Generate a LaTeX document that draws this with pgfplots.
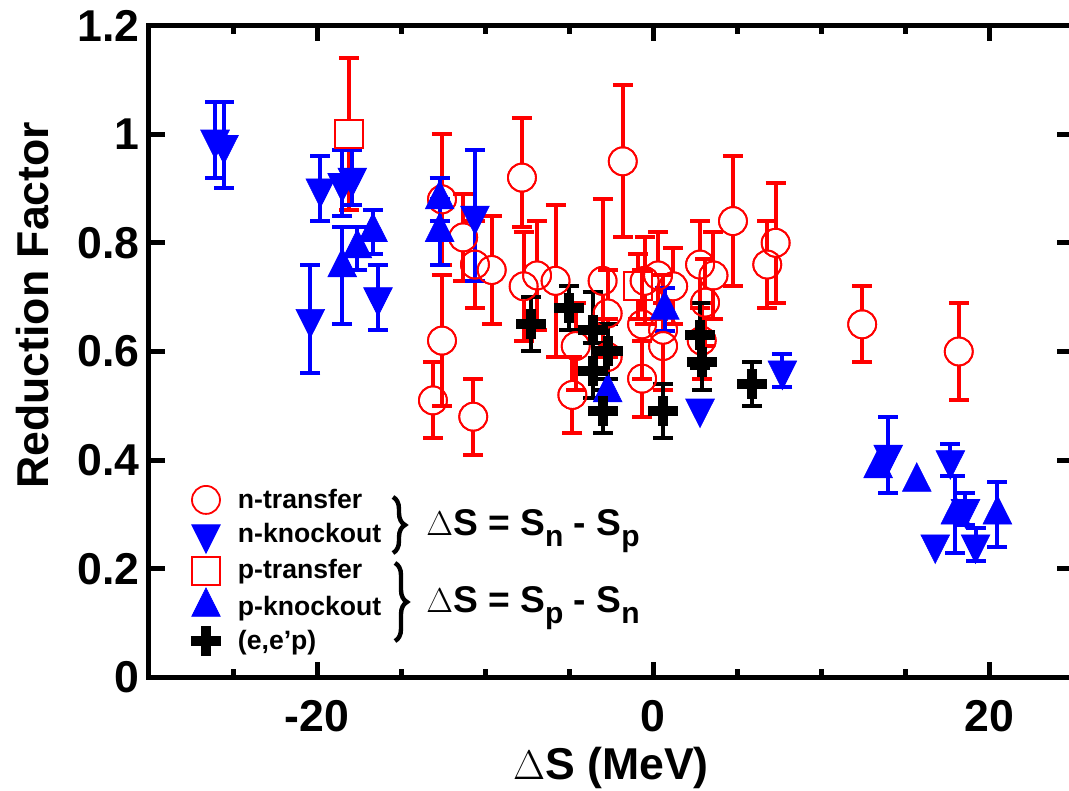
\documentclass[border=0pt]{standalone}
\usepackage{fontspec}
\setmainfont{Liberation Sans}
\usepackage{pgfplots}
\pgfplotsset{compat=1.18}
\usepackage{pgfplotstable}
\usetikzlibrary{decorations.pathreplacing}

% reduction factors: x = Delta S (MeV), y, upper error, lower error
\pgfplotstableread{
x y ep em
-13.1 0.51 0.07 0.07
-12.56 0.88 0.12 0.12
-12.56 0.62 0.12 0.12
-11.3 0.81 0.08 0.08
-10.6 0.76 0.08 0.08
-9.6 0.75 0.10 0.10
-10.7 0.48 0.07 0.07
-7.8 0.92 0.11 0.09
-7.7 0.72 0.10 0.10
-6.9 0.74 0.10 0.10
-5.8 0.73 0.14 0.14
-1.8 0.95 0.14 0.14
-3.0 0.73 0.15 0.14
-2.7 0.67 0.08 0.08
-4.6 0.61 0.08 0.08
-4.8 0.52 0.07 0.07
-2.7 0.59 0.07 0.07
-0.5 0.73 0.08 0.08
0.3 0.74 0.08 0.08
1.2 0.72 0.07 0.07
-0.65 0.65 0.10 0.10
0.6 0.64 0.10 0.10
0.6 0.61 0.08 0.08
-0.65 0.55 0.07 0.07
2.8 0.76 0.08 0.08
3.6 0.74 0.08 0.08
3.1 0.69 0.08 0.08
2.9 0.62 0.07 0.07
4.76 0.84 0.12 0.12
6.8 0.76 0.08 0.08
7.3 0.80 0.11 0.11
12.45 0.65 0.07 0.07
18.2 0.60 0.09 0.09
}\ntransfer

\pgfplotstableread{
x y ep em
-18.1 1.00 0.14 0.14
-0.9 0.72 0.06 0.06
}\ptransfer

\pgfplotstableread{
x y ep em
-26.07 0.99 0.07 0.07
-25.54 0.98 0.08 0.08
-19.8 0.90 0.06 0.06
-18.5 0.91 0.06 0.06
-17.9 0.92 0.05 0.05
-16.37 0.70 0.06 0.06
-20.4 0.66 0.10 0.10
-10.6 0.85 0.12 0.12
7.7 0.565 0.03 0.03
14.0 0.41 0.07 0.07
17.7 0.40 0.03 0.03
18.6 0.31 0.03 0.03
19.2 0.245 0.03 0.03
}\nknockout

\pgfplotstableread{
x y
2.8 0.495
16.8 0.245
}\nknockoutnoerr

\pgfplotstableread{
x y ep em
-18.5 0.755 0.075 0.105
-17.6 0.79 0.04 0.04
-16.67 0.82 0.04 0.04
-12.7 0.88 0.04 0.04
-12.7 0.82 0.06 0.06
0.7 0.677 0.04 0.04
18.0 0.30 0.07 0.07
20.5 0.30 0.06 0.06
}\pknockout

\pgfplotstableread{
x y
-2.7 0.525
13.4 0.385
15.7 0.36
}\pknockoutnoerr

\pgfplotstableread{
x y ep em
-7.26 0.65 0.05 0.05
-5.0 0.68 0.04 0.04
-3.6 0.64 0.07 0.07
-2.7 0.60 0.05 0.05
-3.6 0.565 0.05 0.05
-3.0 0.49 0.04 0.04
0.6 0.49 0.05 0.05
2.8 0.63 0.06 0.06
2.9 0.58 0.05 0.05
5.9 0.54 0.04 0.04
}\eep

\newcommand{\bigfont}{\fontsize{22.3}{26}\selectfont\bfseries}
\newcommand{\legfont}{\fontsize{13.3}{15}\selectfont\bfseries}
\newcommand{\eqfont}{\fontsize{18.6}{22}\selectfont\bfseries}
\newcommand{\subfont}{\fontsize{15}{17}\selectfont\bfseries}

\pgfplotsset{
  circ/.style={only marks, red, mark=o, mark size=7pt, mark options={line width=0.9pt}},
  sqr/.style={only marks, red, mark=square, mark size=7pt, mark options={line width=0.9pt}},
  dtri/.style={only marks, blue, mark=triangle*, mark size=8.3pt,
    mark options={rotate=180, yscale=1.15, fill=blue, draw=blue, line width=0.3pt}},
  utri/.style={only marks, blue, mark=triangle*, mark size=8.3pt,
    mark options={yscale=1.15, fill=blue, draw=blue, line width=0.3pt}},
  pls/.style={only marks, black, mark=+, mark size=7.5pt, mark options={line width=5pt}},
  ebar/.style={error bars/y dir=both, error bars/y explicit, error bars/error mark=-,
    error bars/error bar style={line width=2pt},
    error bars/error mark options={rotate=90, line width=2pt, mark size=5pt}},
  % half bars that stop at the rim of an open marker
  ebarup/.style={forget plot,
    error bars/y dir=plus, error bars/y explicit, error bars/error mark=-,
    error bars/error bar style={line width=2pt, shorten <=7pt},
    error bars/error mark options={rotate=90, line width=2pt, mark size=5pt}},
  ebardn/.style={forget plot,
    error bars/y dir=minus, error bars/y explicit, error bars/error mark=-,
    error bars/error bar style={line width=2pt, shorten <=7pt},
    error bars/error mark options={rotate=90, line width=2pt, mark size=5pt}},
  legimg/.style={legend image code/.code={
    \path[draw=none, fill=none] (-8pt,-8.6pt) rectangle (8pt,8.6pt);
    \draw[##1] plot coordinates {(0pt,0pt)};}},
}

\begin{document}
\begin{tikzpicture}
\useasboundingbox (-74.5pt,-56.75pt) rectangle (460pt,338.75pt);
\clip (-74.5pt,-56.75pt) rectangle (460pt,338.75pt);
\begin{axis}[
  at={(0pt,0pt)}, anchor=south west,
  scale only axis, width=462pt, height=326pt,
  xmin=-30, xmax=25, ymin=0, ymax=1.2,
  axis line style={line width=2.5pt},
  tick style={line width=2.5pt, black},
  major tick length=8pt, minor tick length=4.5pt,
  xtick={-20,0,20}, xticklabels={-20,0,20},
  minor xtick={-25,-15,-10,-5,5,10,15,25},
  ytick={0,0.2,0.4,0.6,0.8,1,1.2},
  yticklabels={0,0.2,0.4,0.6,0.8,1,1.2},
  xticklabel style={font=\bigfont, inner sep=0pt, yshift=-11.25pt},
  yticklabel style={font=\bigfont, inner sep=0pt, xshift=-4.5pt},
  every axis x label/.style={at={(axis description cs:0.5,-0.1572)}, anchor=base, inner sep=0pt, font=\bigfont},
  every axis y label/.style={at={(axis description cs:-0.1093,0.571)}, rotate=90, anchor=base, inner sep=0pt, font=\bigfont},
  xlabel={$\Delta$S (MeV)},
  ylabel={Reduction Factor},
  legend style={at={(axis cs:-27.56,0.3585)}, anchor=north west, draw=none, fill=none,
    inner sep=0pt, outer sep=0pt, font=\legfont, row sep=0pt, column sep=8pt,
    nodes={inner sep=0pt}},
  legend cell align=left,
]
% legend entries
\addlegendimage{circ, legimg}
\addlegendentry{n-transfer}
\addlegendimage{dtri, legimg}
\addlegendentry{n-knockout}
\addlegendimage{sqr, legimg}
\addlegendentry{p-transfer}
\addlegendimage{utri, legimg}
\addlegendentry{p-knockout}
\addlegendimage{pls, legimg}
\addlegendentry{(e,e’p)}

% n-transfer: open circles, bars interrupted at the circle
\addplot[circ, ebarup] table[x=x, y=y, y error plus=ep] {\ntransfer};
\addplot[circ, ebardn] table[x=x, y=y, y error minus=em] {\ntransfer};
% p-transfer
\addplot[sqr, ebarup] table[x=x, y=y, y error plus=ep] {\ptransfer};
\addplot[sqr, ebardn] table[x=x, y=y, y error minus=em] {\ptransfer};
% n-knockout
\addplot[dtri, ebar, forget plot] table[x=x, y=y, y error plus=ep, y error minus=em] {\nknockout};
\addplot[dtri, forget plot] table[x=x, y=y] {\nknockoutnoerr};
% p-knockout
\addplot[utri, ebar, forget plot] table[x=x, y=y, y error plus=ep, y error minus=em] {\pknockout};
\addplot[utri, forget plot] table[x=x, y=y] {\pknockoutnoerr};
% (e,e'p)
\addplot[pls, ebar, forget plot] table[x=x, y=y, y error plus=ep, y error minus=em] {\eep};
\end{axis}

% braces grouping the legend entries
\draw[line width=2.2pt, decorate, decoration={brace, amplitude=6pt}] (122pt,90.25pt) -- (122pt,62.25pt);
\draw[line width=2.2pt, decorate, decoration={brace, amplitude=6pt}] (123pt,57.25pt) -- (123pt,18.25pt);
\node[anchor=base west, inner sep=0pt] at (138.5pt,70.75pt)
  {\eqfont $\Delta$S = S\raisebox{-5.5pt}{\subfont n} - S\raisebox{-5.5pt}{\subfont p}};
\node[anchor=base west, inner sep=0pt] at (138.5pt,32.25pt)
  {\eqfont $\Delta$S = S\raisebox{-5.5pt}{\subfont p} - S\raisebox{-5.5pt}{\subfont n}};
\end{tikzpicture}
\end{document}
